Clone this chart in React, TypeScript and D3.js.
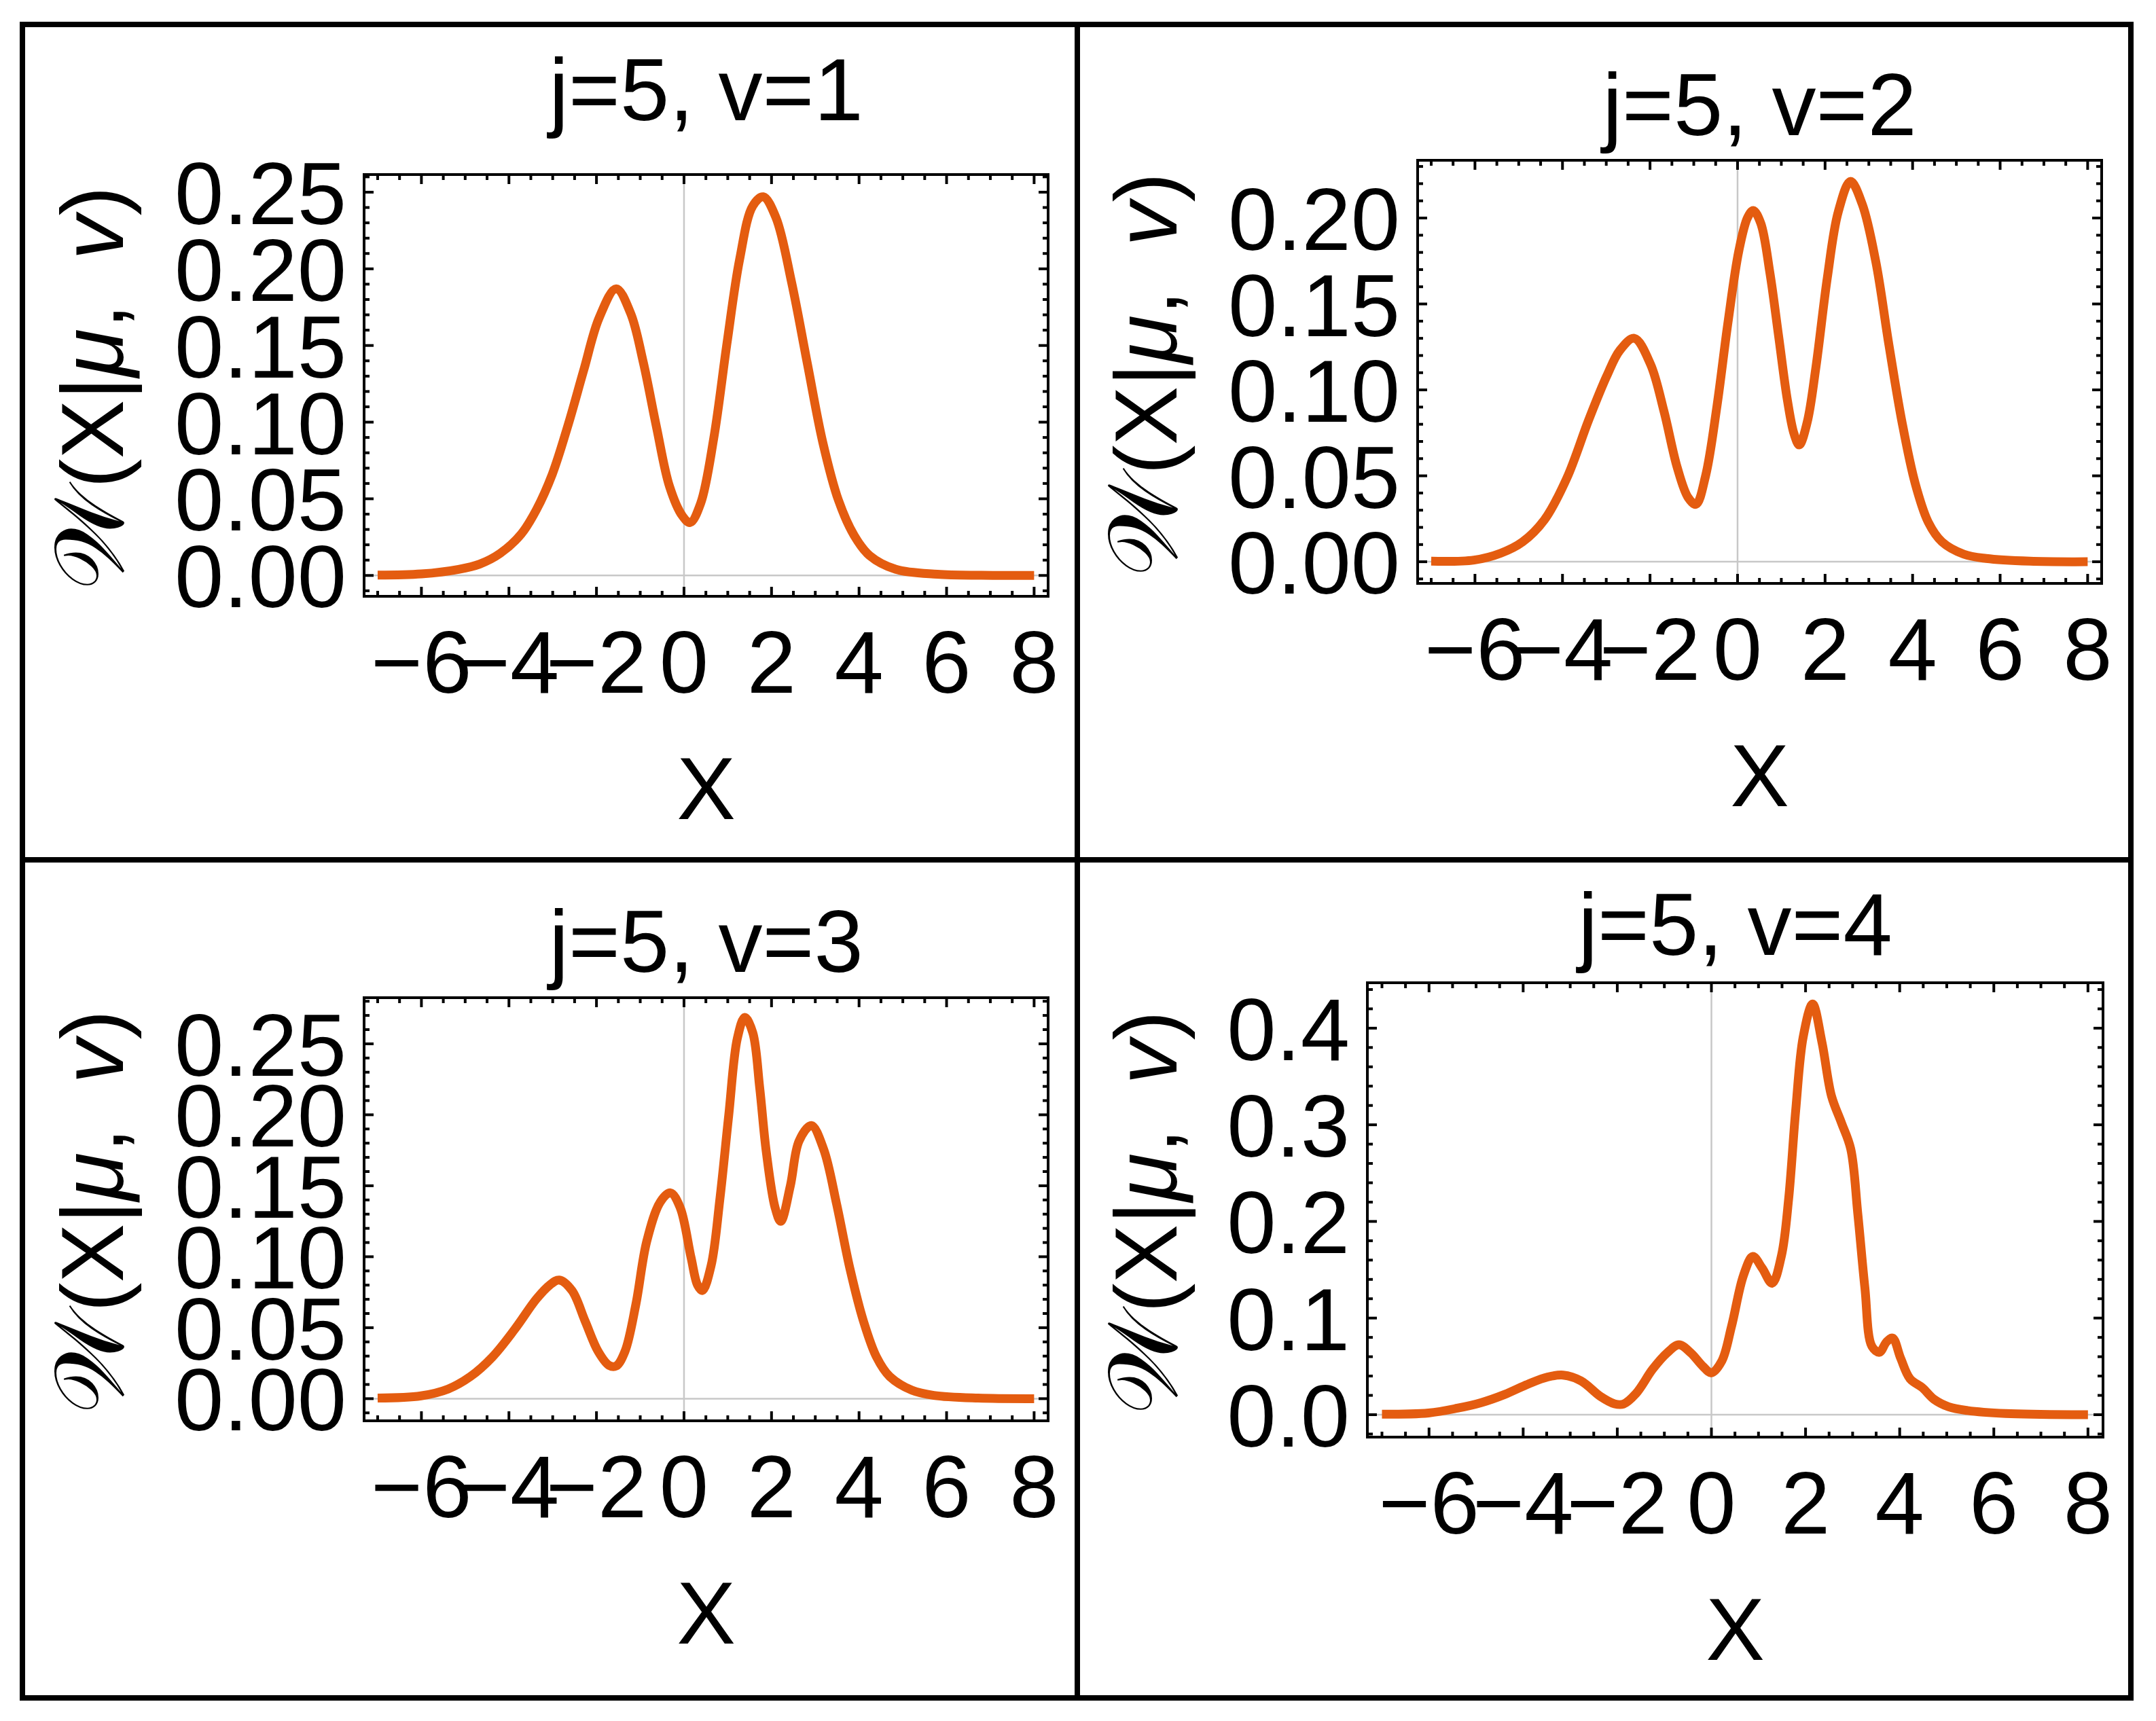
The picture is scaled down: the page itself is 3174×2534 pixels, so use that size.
import * as d3 from "d3";

const W = 3174;
const H = 2534;

// j=5, v=1
const xs1 = [-7, -6, -5.15, -4.67, -4.2, -3.72, -3.37, -3.01, -2.65, -2.29, -1.94, -1.55, -1.22, -0.93, -0.63, -0.33, -0.04, 0.14, 0.38, 0.68, 0.98, 1.27, 1.57, 1.81, 2.1, 2.46, 2.82, 3.17, 3.53, 3.89, 4.24, 4.84, 5.79, 6.8, 8];
const ys1 = [0.0002, 0.001, 0.004, 0.0074, 0.0144, 0.027, 0.043, 0.066, 0.098, 0.134, 0.168, 0.187, 0.171, 0.139, 0.097, 0.058, 0.039, 0.0345, 0.047, 0.0895, 0.151, 0.206, 0.241, 0.247, 0.2335, 0.191, 0.138, 0.087, 0.049, 0.026, 0.013, 0.004, 0.0008, 0.0001, 0];

// j=5, v=2
const xs2 = [-7, -6.02, -5.41, -4.91, -4.41, -3.9, -3.4, -2.99, -2.69, -2.36, -1.99, -1.68, -1.38, -1.13, -0.95, -0.73, -0.47, -0.22, 0.03, 0.23, 0.36, 0.53, 0.74, 0.94, 1.14, 1.29, 1.41, 1.59, 1.79, 2.05, 2.3, 2.58, 2.85, 3.16, 3.46, 3.76, 4.06, 4.36, 4.67, 5.17, 5.68, 6.68, 8];
const ys2 = [0.0003, 0.001, 0.005, 0.0116, 0.0245, 0.0487, 0.0826, 0.108, 0.123, 0.13, 0.115, 0.0874, 0.055, 0.0374, 0.0334, 0.05, 0.0906, 0.139, 0.181, 0.2003, 0.2044, 0.197, 0.168, 0.131, 0.0939, 0.0745, 0.068, 0.081, 0.113, 0.165, 0.2035, 0.2213, 0.208, 0.1745, 0.126, 0.081, 0.0455, 0.0229, 0.0116, 0.0044, 0.0019, 0.0003, 0];

// j=5, v=3
const xs3 = [-7, -6.01, -5.39, -4.88, -4.38, -3.87, -3.37, -3.07, -2.85, -2.56, -2.26, -1.96, -1.71, -1.55, -1.35, -1.1, -0.85, -0.54, -0.31, -0.09, 0.16, 0.31, 0.42, 0.62, 0.82, 1.02, 1.22, 1.39, 1.57, 1.73, 1.88, 2.08, 2.21, 2.43, 2.63, 2.91, 3.19, 3.49, 3.79, 4.1, 4.4, 4.7, 5.21, 5.71, 6.72, 8];
const ys3 = [0.0004, 0.002, 0.0068, 0.0156, 0.0293, 0.0488, 0.0703, 0.08, 0.0836, 0.0762, 0.0547, 0.0332, 0.0234, 0.023, 0.0332, 0.0664, 0.111, 0.1387, 0.145, 0.1348, 0.0996, 0.08, 0.0762, 0.0938, 0.1406, 0.199, 0.254, 0.2686, 0.258, 0.219, 0.174, 0.1348, 0.125, 0.15, 0.1816, 0.1924, 0.1758, 0.1367, 0.0918, 0.0547, 0.0293, 0.0156, 0.0059, 0.0023, 0.0004, 0];

// j=5, v=4
const xs4 = [-7, -6.01, -5.4, -4.89, -4.39, -3.88, -3.48, -3.15, -2.77, -2.36, -2.06, -1.87, -1.6, -1.25, -0.94, -0.69, -0.44, -0.18, 0, 0.22, 0.43, 0.68, 0.88, 1.08, 1.29, 1.49, 1.64, 1.79, 1.95, 2.15, 2.35, 2.55, 2.76, 2.96, 3.11, 3.26, 3.41, 3.57, 3.72, 3.85, 4.02, 4.22, 4.48, 4.73, 5.04, 5.44, 6.25, 8];
const ys4 = [0.0005, 0.0018, 0.0067, 0.0125, 0.021, 0.032, 0.039, 0.041, 0.035, 0.019, 0.0113, 0.011, 0.022, 0.047, 0.064, 0.0723, 0.064, 0.05, 0.0433, 0.0555, 0.092, 0.144, 0.1637, 0.1515, 0.136, 0.165, 0.223, 0.3146, 0.391, 0.425, 0.385, 0.33, 0.3024, 0.275, 0.208, 0.1317, 0.0707, 0.0646, 0.0753, 0.0793, 0.0585, 0.0372, 0.028, 0.0159, 0.0082, 0.0043, 0.0012, 0];

const titles = ["j=5, v=1", "j=5, v=2", "j=5, v=3", "j=5, v=4"];
const xTickValues = [-6, -4, -2, 0, 2, 4, 6, 8];
const xTickLabels = ["\u22126", "\u22124", "\u22122", "0", "2", "4", "6", "8"];
const yTicksA = [0, 0.05, 0.1, 0.15, 0.2, 0.25];
const yTicksB = [0, 0.05, 0.1, 0.15, 0.2];
const yTicksC = [0, 0.1, 0.2, 0.3, 0.4];

// layout of each panel (frame box in px, y range, text positions)
const panels = [
  { xs: xs1, ys: ys1, title: titles[0], l: 536, t: 257, r: 1543, b: 878, yDom: [-0.0136, 0.2615], yTicks: yTicksA, yMinor: 0.01, digits: 2, titleY: 177, labX: 181 },
  { xs: xs2, ys: ys2, title: titles[1], l: 2087, t: 236, r: 3094, b: 859, yDom: [-0.0126, 0.2336], yTicks: yTicksB, yMinor: 0.01, digits: 2, titleY: 199, labX: 1732 },
  { xs: xs3, ys: ys3, title: titles[2], l: 536, t: 1469, r: 1543, b: 2092, yDom: [-0.0156, 0.2825], yTicks: yTicksA, yMinor: 0.01, digits: 2, titleY: 1431, labX: 181 },
  { xs: xs4, ys: ys4, title: titles[3], l: 2013, t: 1447, r: 3096, b: 2116, yDom: [-0.0232, 0.447], yTicks: yTicksC, yMinor: 0.02, digits: 1, titleY: 1406, labX: 1732 },
];

const FONT = "'Liberation Sans', Arial, sans-serif";
const FS = 130;
const ORANGE = "#e45c10";

function Panel({ p }: { p: (typeof panels)[number] }) {
  const x = d3.scaleLinear().domain([-7.31, 8.32]).range([p.l, p.r]);
  const y = d3.scaleLinear().domain(p.yDom).range([p.b, p.t]);
  const pts = p.xs.map((v, i) => [v, p.ys[i]] as [number, number]);
  const line = d3
    .line<[number, number]>()
    .x((d) => x(d[0]))
    .y((d) => y(d[1]))
    .curve(d3.curveCatmullRom.alpha(0.5));

  const xMinor = d3.range(-7, 8.01, 0.5).filter((v) => Math.abs(v % 2) > 1e-6);
  const yMinor = d3
    .range(Math.ceil(p.yDom[0] / p.yMinor) * p.yMinor, p.yDom[1], p.yMinor)
    .filter((v) => !p.yTicks.some((t) => Math.abs(t - v) < 1e-6));
  const major = 14;
  const minor = 8;
  const cx = (p.l + p.r) / 2;
  const cy = (p.t + p.b) / 2;

  return (
    <g>
      {/* zero grid lines */}
      <line x1={x(0)} x2={x(0)} y1={p.t} y2={p.b} stroke="#c8c8c8" strokeWidth={2.5} />
      <line x1={p.l} x2={p.r} y1={y(0)} y2={y(0)} stroke="#c8c8c8" strokeWidth={2.5} />

      <path d={line(pts) ?? ""} fill="none" stroke={ORANGE} strokeWidth={13} strokeLinejoin="round" />

      {/* frame ticks */}
      <g stroke="#000" strokeWidth={4}>
        {xTickValues.map((v) => (
          <g key={"xm" + v}>
            <line x1={x(v)} x2={x(v)} y1={p.b} y2={p.b - major} />
            <line x1={x(v)} x2={x(v)} y1={p.t} y2={p.t + major} />
          </g>
        ))}
        {xMinor.map((v) => (
          <g key={"xn" + v}>
            <line x1={x(v)} x2={x(v)} y1={p.b} y2={p.b - minor} />
            <line x1={x(v)} x2={x(v)} y1={p.t} y2={p.t + minor} />
          </g>
        ))}
        {p.yTicks.map((v) => (
          <g key={"ym" + v}>
            <line x1={p.l} x2={p.l + major} y1={y(v)} y2={y(v)} />
            <line x1={p.r} x2={p.r - major} y1={y(v)} y2={y(v)} />
          </g>
        ))}
        {yMinor.map((v) => (
          <g key={"yn" + v}>
            <line x1={p.l} x2={p.l + minor} y1={y(v)} y2={y(v)} />
            <line x1={p.r} x2={p.r - minor} y1={y(v)} y2={y(v)} />
          </g>
        ))}
      </g>
      <rect x={p.l} y={p.t} width={p.r - p.l} height={p.b - p.t} fill="none" stroke="#000" strokeWidth={4} />

      <g fontFamily={FONT} fontSize={FS} fill="#000">
        {xTickValues.map((v, i) => (
          <text key={"xl" + v} x={x(v)} y={p.b + 142} textAnchor="middle">
            {xTickLabels[i]}
          </text>
        ))}
        {p.yTicks.map((v) => (
          <text key={"yl" + v} x={p.l - 26} y={y(v) + 47} textAnchor="end">
            {v.toFixed(p.digits)}
          </text>
        ))}
        <text x={cx} y={p.titleY} textAnchor="middle">
          {p.title}
        </text>
        <text x={cx} y={p.b + 328} textAnchor="middle">
          X
        </text>
        <text transform={`translate(${p.labX},${cy + 4}) rotate(-90)`} textAnchor="middle">
          <tspan fontFamily="'DejaVu Serif', 'DejaVu Sans', serif" fontSize={FS * 1.1}>{"\u{1D4B2}"}</tspan>
          (X|<tspan fontStyle="italic">{"\u03BC"}</tspan>,{"\u2002"}<tspan fontStyle="italic">v</tspan>)
        </text>
      </g>
    </g>
  );
}

export default function App() {
  return (
    <svg
      width={W}
      height={H}
      viewBox={`0 0 ${W} ${H}`}
      style={{ position: "absolute", left: 0, top: 0, background: "#fff" }}
    >
      <rect width={W} height={H} fill="#fff" />
      {panels.map((p, i) => (
        <Panel key={i} p={p} />
      ))}
      {/* grid cell borders */}
      <g stroke="#000" strokeWidth={8} fill="none">
        <rect x={33} y={36} width={3137 - 33} height={2500 - 36} />
        <line x1={1586} x2={1586} y1={36} y2={2500} />
        <line x1={33} x2={3137} y1={1266} y2={1266} />
      </g>
    </svg>
  );
}
